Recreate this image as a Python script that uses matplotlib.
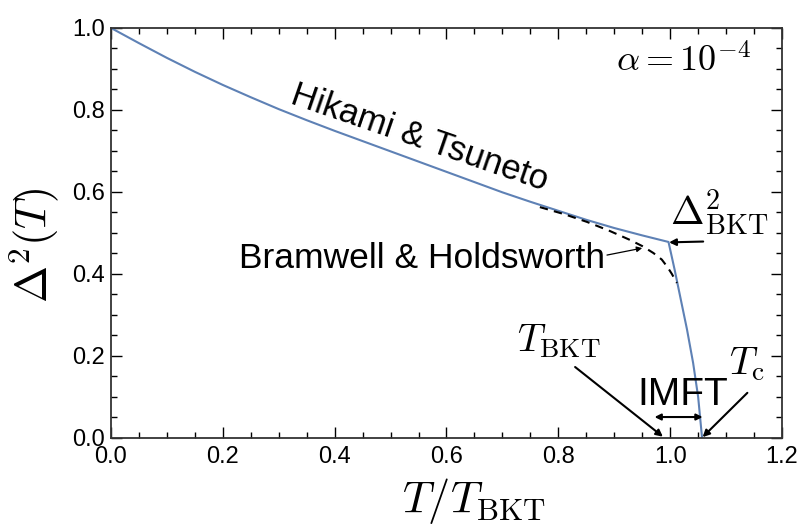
import matplotlib.pyplot as plt
from matplotlib.ticker import MultipleLocator

plt.rcParams['font.family'] = ['Liberation Sans', 'DejaVu Sans']
plt.rcParams['mathtext.fontset'] = 'cm'

# Hikami & Tsuneto curve (T/T_BKT, Delta^2)
ht_x = [0.0, 0.05, 0.1, 0.15, 0.2, 0.25, 0.3, 0.35, 0.4, 0.45, 0.5, 0.55, 0.6,
        0.65, 0.7, 0.75, 0.8, 0.85, 0.9, 0.95, 0.997,
        1.008, 1.018, 1.03, 1.041, 1.05, 1.057]
ht_y = [1.0, 0.963, 0.927, 0.893, 0.861, 0.831, 0.802, 0.775, 0.749, 0.724, 0.699, 0.674, 0.649,
        0.624, 0.599, 0.576, 0.554, 0.532, 0.512, 0.494, 0.478,
        0.41, 0.344, 0.265, 0.183, 0.1, 0.0]

# Bramwell & Holdsworth curve
bh_x = [0.767, 0.81, 0.851, 0.89, 0.928, 0.95, 0.970, 0.985, 0.995, 1.003, 1.009, 1.012]
bh_y = [0.563, 0.546, 0.527, 0.506, 0.483, 0.468, 0.451, 0.435, 0.417, 0.400, 0.385, 0.378]

fig = plt.figure(figsize=(7.98, 5.27), dpi=100)
ax = fig.add_axes([0.139, 0.169, 0.841, 0.778])

ax.plot(ht_x, ht_y, color='#5E81B5', lw=1.5)
ax.plot(bh_x, bh_y, color='black', lw=1.5, dashes=(4, 3))

ax.set_xlim(0, 1.2)
ax.set_ylim(0, 1.0)
ax.xaxis.set_major_locator(MultipleLocator(0.2))
ax.xaxis.set_minor_locator(MultipleLocator(0.05))
ax.yaxis.set_major_locator(MultipleLocator(0.2))
ax.yaxis.set_minor_locator(MultipleLocator(0.05))
ax.tick_params(which='both', direction='in', top=True, right=True, labelsize=17, width=1, pad=4)
ax.tick_params(axis='x', which='major', pad=6)
ax.tick_params(which='major', length=8)
ax.tick_params(which='minor', length=4)
ax.set_xticklabels([f'{v:.1f}' for v in ax.get_xticks()])
ax.set_yticklabels([f'{v:.1f}' for v in ax.get_yticks()])
for s in ax.spines.values():
    s.set_color('#333333')
    s.set_linewidth(1.3)

ax.set_xlabel(r'$T/T_{\rm BKT}$', fontsize=32)
ax.xaxis.set_label_coords(0.54, -0.093, transform=ax.transAxes)
ax.xaxis.label.set_va('top')
ax.set_ylabel(r'$\Delta^2(T)$', fontsize=32)
ax.yaxis.set_label_coords(-0.075, 0.47, transform=ax.transAxes)

ax.text(0.551, 0.732, 'Hikami & Tsuneto', fontsize=25, rotation=-19,
        ha='center', va='center', rotation_mode='anchor')
ax.text(1.023, 0.893, r'$\alpha = 10^{-4}$', fontsize=26, ha='center', va='baseline')

arr = dict(arrowstyle='-|>', color='black', lw=1.5, mutation_scale=10, shrinkA=0, shrinkB=0)
ax.text(0.884, 0.415, 'Bramwell & Holdsworth', fontsize=25.5, ha='right', va='baseline')
ax.annotate('', xy=(0.950, 0.463), xytext=(0.887, 0.446),
            arrowprops=dict(arrowstyle='-|>', color='black', lw=0.9, mutation_scale=8,
                            shrinkA=0, shrinkB=0))
ax.text(1.0, 0.52, r'$\Delta^2_{\rm BKT}$', fontsize=29, ha='left', va='baseline')
ax.annotate('', xy=(0.998, 0.477), xytext=(1.059, 0.479), arrowprops=arr)
ax.text(0.726, 0.21, r'$T_{\rm BKT}$', fontsize=28, ha='left', va='baseline')
ax.annotate('', xy=(0.987, 0.003), xytext=(0.830, 0.173), arrowprops=arr)
ax.text(1.105, 0.155, r'$T_{\rm c}$', fontsize=28, ha='left', va='baseline')
ax.annotate('', xy=(1.058, 0.002), xytext=(1.138, 0.110), arrowprops=arr)
ax.text(1.023, 0.105, 'IMFT', fontsize=28, ha='center', va='center')
ax.annotate('', xy=(0.972, 0.051), xytext=(1.058, 0.051),
            arrowprops=dict(arrowstyle='<|-|>', color='black', lw=1.5, mutation_scale=9,
                            shrinkA=0, shrinkB=0))

fig.savefig('out.png', dpi=100)
